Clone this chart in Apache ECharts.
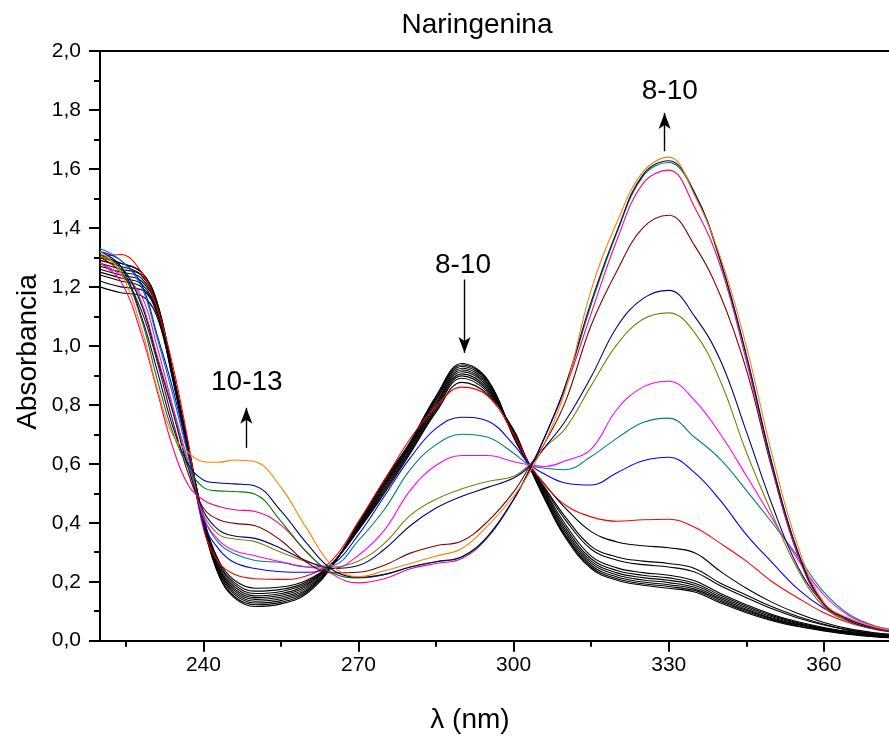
<!DOCTYPE html>
<html>
<head>
<meta charset="utf-8">
<script src="https://cdn.jsdelivr.net/npm/echarts@6/dist/echarts.min.js"></script>
<style>html,body{margin:0;padding:0;background:#fff}#c{width:889px;height:740px}</style>
</head>
<body>
<div id="c"></div>
<script>
// wavelengths (nm)
const X = [220,224,228,231,234,237,240,243,246,250,255,260,265,270,275,280,285,290,295,300,303,306,310,315,320,325,330,335,340,345,350,355,360,365,370,375];
// black spectra
const B1 = [1.20,1.18,1.17,1.10,0.89,0.64,0.39,0.22,0.145,0.116,0.125,0.16,0.255,0.40,0.545,0.675,0.83,0.94,0.885,0.69,0.59,0.48,0.35,0.245,0.205,0.188,0.178,0.165,0.128,0.095,0.068,0.048,0.033,0.021,0.013,0.008];
const B2 = [1.22,1.20,1.19,1.11,0.895,0.645,0.395,0.225,0.15,0.122,0.13,0.165,0.257,0.398,0.542,0.672,0.826,0.935,0.882,0.692,0.592,0.485,0.355,0.25,0.21,0.193,0.184,0.17,0.133,0.099,0.071,0.05,0.035,0.022,0.014,0.009];
const B3 = [1.24,1.22,1.20,1.12,0.90,0.65,0.40,0.23,0.157,0.128,0.136,0.17,0.258,0.395,0.538,0.668,0.821,0.93,0.878,0.694,0.594,0.49,0.36,0.256,0.216,0.199,0.19,0.175,0.138,0.103,0.074,0.053,0.037,0.024,0.015,0.01];
const B4 = [1.25,1.23,1.21,1.12,0.90,0.65,0.40,0.235,0.163,0.134,0.142,0.175,0.259,0.392,0.533,0.664,0.815,0.924,0.872,0.696,0.595,0.495,0.368,0.263,0.223,0.206,0.197,0.181,0.143,0.107,0.077,0.055,0.039,0.025,0.016,0.011];
const B5 = [1.26,1.24,1.22,1.13,0.905,0.655,0.405,0.24,0.17,0.14,0.148,0.18,0.26,0.389,0.528,0.66,0.808,0.918,0.866,0.698,0.596,0.50,0.376,0.27,0.23,0.214,0.205,0.188,0.148,0.112,0.081,0.058,0.041,0.027,0.017,0.012];
const B6 = [1.27,1.25,1.23,1.13,0.91,0.66,0.41,0.245,0.176,0.146,0.154,0.185,0.261,0.386,0.523,0.655,0.801,0.912,0.86,0.70,0.597,0.505,0.385,0.278,0.238,0.222,0.213,0.195,0.154,0.117,0.085,0.061,0.043,0.029,0.018,0.013];
const B7 = [1.28,1.26,1.24,1.14,0.91,0.66,0.41,0.25,0.183,0.152,0.16,0.19,0.262,0.383,0.518,0.65,0.795,0.905,0.854,0.703,0.598,0.51,0.395,0.287,0.247,0.231,0.222,0.203,0.16,0.122,0.089,0.064,0.045,0.031,0.02,0.014];
const B8 = [1.29,1.27,1.24,1.14,0.915,0.665,0.415,0.258,0.19,0.16,0.167,0.195,0.263,0.38,0.512,0.645,0.788,0.898,0.848,0.706,0.599,0.515,0.41,0.31,0.273,0.258,0.25,0.233,0.186,0.146,0.108,0.077,0.053,0.035,0.023,0.016];
const B9 = [1.30,1.28,1.25,1.15,0.915,0.665,0.415,0.263,0.197,0.168,0.174,0.20,0.264,0.378,0.506,0.64,0.782,0.89,0.842,0.709,0.60,0.52,0.42,0.32,0.284,0.27,0.262,0.245,0.195,0.155,0.115,0.082,0.056,0.036,0.024,0.017];
const B10 = [1.30,1.28,1.25,1.15,0.92,0.67,0.42,0.27,0.205,0.178,0.182,0.205,0.265,0.375,0.50,0.635,0.775,0.876,0.835,0.715,0.60,0.53,0.45,0.37,0.335,0.322,0.315,0.298,0.235,0.178,0.13,0.092,0.062,0.04,0.027,0.019];
// coloured spectra
const RED = [1.30,1.31,1.25,1.13,0.94,0.68,0.38,0.265,0.225,0.21,0.208,0.22,0.275,0.405,0.545,0.685,0.795,0.86,0.83,0.70,0.60,0.53,0.46,0.42,0.405,0.41,0.412,0.385,0.33,0.27,0.20,0.145,0.095,0.06,0.038,0.025];
const BLUE = [1.32,1.29,1.21,1.04,0.86,0.64,0.40,0.31,0.265,0.245,0.234,0.232,0.258,0.36,0.49,0.62,0.72,0.758,0.745,0.665,0.60,0.565,0.535,0.528,0.57,0.61,0.622,0.57,0.475,0.36,0.265,0.175,0.11,0.07,0.043,0.03];
const TEAL = [1.33,1.29,1.20,1.03,0.84,0.63,0.42,0.33,0.295,0.272,0.265,0.25,0.255,0.34,0.445,0.58,0.665,0.70,0.69,0.636,0.597,0.585,0.58,0.625,0.687,0.74,0.755,0.69,0.615,0.51,0.40,0.285,0.165,0.088,0.05,0.033];
const MAGENTA = [1.28,1.24,1.17,1.00,0.80,0.61,0.42,0.34,0.305,0.288,0.268,0.25,0.245,0.29,0.375,0.51,0.595,0.628,0.628,0.607,0.597,0.591,0.61,0.65,0.785,0.86,0.88,0.815,0.70,0.56,0.415,0.275,0.155,0.083,0.048,0.032];
const OLIVE = [1.30,1.27,1.15,0.97,0.79,0.60,0.43,0.36,0.345,0.336,0.30,0.268,0.25,0.27,0.33,0.425,0.48,0.515,0.54,0.558,0.597,0.655,0.72,0.865,1.005,1.09,1.112,1.045,0.88,0.64,0.43,0.24,0.115,0.063,0.04,0.026];
const NAVY1 = [1.31,1.27,1.14,0.96,0.78,0.59,0.44,0.375,0.355,0.347,0.313,0.27,0.245,0.255,0.31,0.39,0.45,0.49,0.52,0.552,0.59,0.655,0.745,0.895,1.065,1.16,1.188,1.10,0.95,0.71,0.46,0.25,0.125,0.066,0.04,0.027];
const WINE = [1.30,1.25,1.12,0.95,0.75,0.57,0.45,0.41,0.398,0.39,0.34,0.265,0.23,0.232,0.256,0.297,0.322,0.338,0.405,0.505,0.588,0.67,0.81,1.07,1.255,1.40,1.443,1.34,1.17,0.92,0.58,0.29,0.125,0.07,0.042,0.028];
const PINK = [1.28,1.22,1.04,0.85,0.66,0.53,0.477,0.455,0.444,0.438,0.392,0.30,0.225,0.196,0.21,0.244,0.262,0.279,0.35,0.478,0.577,0.69,0.855,1.11,1.36,1.55,1.596,1.47,1.27,0.95,0.59,0.29,0.12,0.07,0.042,0.028];
const GREEN = [1.31,1.26,1.09,0.89,0.71,0.59,0.52,0.508,0.506,0.497,0.405,0.30,0.23,0.213,0.224,0.25,0.268,0.284,0.352,0.479,0.577,0.69,0.862,1.14,1.385,1.575,1.622,1.515,1.285,0.965,0.595,0.30,0.125,0.072,0.044,0.029];
const NAVY2 = [1.32,1.27,1.10,0.92,0.73,0.60,0.545,0.535,0.532,0.525,0.44,0.33,0.24,0.215,0.225,0.25,0.268,0.285,0.355,0.48,0.577,0.69,0.865,1.15,1.39,1.58,1.628,1.52,1.29,0.97,0.60,0.30,0.125,0.072,0.044,0.029];
const ORANGE = [1.32,1.25,1.06,0.86,0.70,0.64,0.607,0.605,0.613,0.607,0.52,0.38,0.253,0.217,0.237,0.262,0.287,0.313,0.39,0.49,0.567,0.67,0.85,1.19,1.42,1.59,1.64,1.51,1.30,1.00,0.63,0.32,0.13,0.075,0.046,0.031];

const X_MIN = 220, X_MAX = 372.6;
const X_MAJOR = [240,270,300,330,360];
const X_MINOR = [225,255,285,315,345];
const TITLE = 'Naringenina';
const Y_NAME = 'Absorbancia';
const X_NAME = 'λ (nm)';
// annotations: [text, x, y]
const NOTES = [['10-13', 248.4, 0.875], ['8-10', 290.2, 1.272], ['8-10', 330.2, 1.863]];
// arrows: [x, yFrom, yTo]
const ARROWS = [[248.3, 0.654, 0.79], [290.5, 1.225, 0.976], [329.2, 1.66, 1.79]];

const FONT = 'Liberation Sans, Arial, sans-serif';
const curves = [
  [B1,'#000000'],[B2,'#000000'],[B3,'#000000'],[B4,'#000000'],[B5,'#000000'],
  [B6,'#000000'],[B7,'#000000'],[B8,'#000000'],[B9,'#000000'],[B10,'#000000'],
  [RED,'#ff0000'],[BLUE,'#0000ff'],[TEAL,'#008080'],[MAGENTA,'#ff00ff'],[OLIVE,'#808000'],
  [NAVY1,'#000080'],[WINE,'#800000'],[PINK,'#ff0080'],[GREEN,'#008000'],[NAVY2,'#000080'],[ORANGE,'#ff8000']
];
const series = curves.map(([ys, col]) => ({
  type: 'line', xAxisIndex: 0, yAxisIndex: 0,
  data: X.map((x, i) => [x, ys[i]]),
  showSymbol: false, smooth: 0.4, silent: true, clip: true,
  lineStyle: { color: col, width: 1.1 }
}));
series.push({
  type: 'line', data: [], silent: true,
  markLine: {
    silent: true, symbol: ['none', 'arrow'], symbolSize: [9, 16],
    label: { show: false },
    lineStyle: { color: '#000', width: 1.4, type: 'solid' },
    data: ARROWS.map(a => [{ coord: [a[0], a[1]] }, { coord: [a[0], a[2]] }])
  },
  markPoint: {
    silent: true, symbol: 'rect', symbolSize: 1,
    itemStyle: { color: 'rgba(0,0,0,0)' },
    label: { show: true, position: 'inside', color: '#000', fontSize: 28, fontFamily: FONT, formatter: p => p.name },
    data: NOTES.map(n => ({ name: n[0], coord: [n[1], n[2]] }))
  }
});

const axisLineStyle = { color: '#000', width: 2 };
const chart = echarts.init(document.getElementById('c'), null, { renderer: 'canvas' });
chart.setOption({
  animation: false,
  backgroundColor: '#fff',
  grid: { left: 100, right: 0, top: 51, bottom: 99.3, containLabel: false },
  xAxis: [
    { type: 'value', min: X_MIN, max: X_MAX, position: 'bottom',
      axisLine: { show: true, onZero: false, lineStyle: axisLineStyle },
      axisTick: { show: true, length: 11, lineStyle: axisLineStyle, customValues: X_MAJOR },
      axisLabel: { show: true, customValues: X_MAJOR, color: '#000', fontSize: 21, fontFamily: FONT, margin: 14 },
      splitLine: { show: false } },
    { type: 'value', min: X_MIN, max: X_MAX, position: 'bottom',
      axisLine: { show: false },
      axisTick: { show: true, length: 6, lineStyle: axisLineStyle, customValues: X_MINOR },
      axisLabel: { show: false }, splitLine: { show: false } },
    { type: 'value', min: X_MIN, max: X_MAX, position: 'top',
      axisLine: { show: true, onZero: false, lineStyle: axisLineStyle },
      axisTick: { show: false }, axisLabel: { show: false }, splitLine: { show: false } }
  ],
  yAxis: [{
    type: 'value', min: 0, max: 2, interval: 0.2,
    axisLine: { show: true, onZero: false, lineStyle: axisLineStyle },
    axisTick: { show: true, length: 11, lineStyle: axisLineStyle },
    minorTick: { show: true, splitNumber: 2, length: 6, lineStyle: axisLineStyle },
    axisLabel: { color: '#000', fontSize: 21, fontFamily: FONT, margin: 19,
      formatter: v => v.toFixed(1).replace('.', ',') },
    splitLine: { show: false }, minorSplitLine: { show: false }
  }],
  graphic: [
    { type: 'text', x: 477, y: 25, silent: true,
      style: { text: TITLE, fontSize: 28, fontFamily: FONT, fill: '#000', textAlign: 'center', textVerticalAlign: 'middle' } },
    { type: 'text', x: 28, y: 352, rotation: Math.PI / 2, silent: true,
      style: { text: Y_NAME, fontSize: 28, fontFamily: FONT, fill: '#000', textAlign: 'center', textVerticalAlign: 'middle' } },
    { type: 'text', x: 470, y: 720, silent: true,
      style: { text: X_NAME, fontSize: 28, fontFamily: FONT, fill: '#000', textAlign: 'center', textVerticalAlign: 'middle' } }
  ],
  series: series
});
</script>
</body>
</html>
